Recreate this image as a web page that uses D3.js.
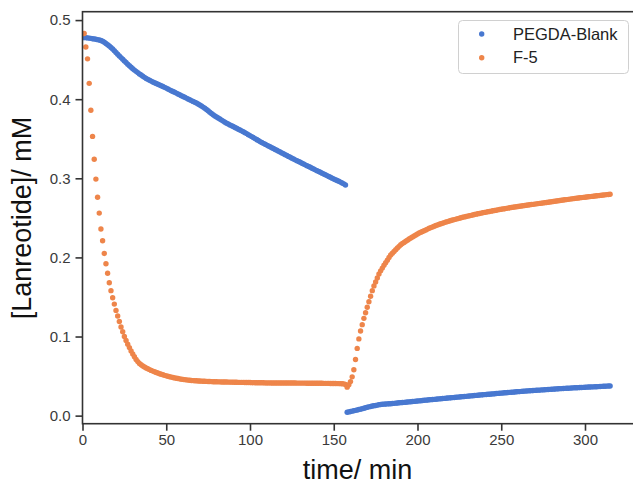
<!DOCTYPE html>
<html>
<head>
<meta charset="utf-8">
<script src="https://cdn.jsdelivr.net/npm/d3@7"></script>
<style>
  html, body { margin: 0; padding: 0; background: #fff; }
  svg { display: block; font-family: "Liberation Sans", Arial, sans-serif; }
</style>
</head>
<body>
<svg id="chart" width="633" height="484"></svg>
<script>
// ---------------- data ----------------
const seriesNames = ["PEGDA-Blank", "F-5"];
const xTicks = [0, 50, 100, 150, 200, 250, 300];
const yTicks = [0.0, 0.1, 0.2, 0.3, 0.4, 0.5];
const xLabel = "time/ min";
const yLabel = "[Lanreotide]/ mM";

// sampling times (min), shared by both series
const timeMin = [
  0,1,2,3,4,5,6,7,8,9,10,11,12,13,14,15,16,17,18,19,
  20,21,22,23,24,25,26,27,28,29,30,31,32,33,34,35,36,37,38,39,
  40,41,42,43,44,45,46,47,48,49,50,51,52,53,54,55,56,57,58,59,
  60,61,62,63,64,65,66,67,68,69,70,71,72,73,74,75,76,77,78,79,
  80,81,82,83,84,85,86,87,88,89,90,91,92,93,94,95,96,97,98,99,
  100,101,102,103,104,105,106,107,108,109,110,111,112,113,114,115,116,117,118,119,
  120,121,122,123,124,125,126,127,128,129,130,131,132,133,134,135,136,137,138,139,
  140,141,142,143,144,145,146,147,148,149,150,151,152,153,154,155,156,157,158,159,
  160,161,162,163,164,165,166,167,168,169,170,171,172,173,174,175,176,177,178,179,
  180,181,182,183,184,185,186,187,188,189,190,191,192,193,194,195,196,197,198,199,
  200,201,202,203,204,205,206,207,208,209,210,211,212,213,214,215,216,217,218,219,
  220,221,222,223,224,225,226,227,228,229,230,231,232,233,234,235,236,237,238,239,
  240,241,242,243,244,245,246,247,248,249,250,251,252,253,254,255,256,257,258,259,
  260,261,262,263,264,265,266,267,268,269,270,271,272,273,274,275,276,277,278,279,
  280,281,282,283,284,285,286,287,288,289,290,291,292,293,294,295,296,297,298,299,
  300,301,302,303,304,305,306,307,308,309,310,311,312,313,314,315
];

// PEGDA-Blank concentration (mM)
const blueConc = [
  .4780,.4779,.4778,.4775,.4772,.4769,.4765,.4762,.4758,.4753,
  .4748,.4741,.4732,.4720,.4705,.4689,.4672,.4654,.4635,.4613,
  .4590,.4568,.4547,.4526,.4505,.4484,.4463,.4442,.4422,.4403,
  .4385,.4368,.4352,.4336,.4320,.4305,.4290,.4276,.4262,.4251,
  .4240,.4229,.4218,.4208,.4198,.4189,.4180,.4170,.4160,.4150,
  .4140,.4129,.4118,.4107,.4097,.4087,.4077,.4066,.4056,.4045,
  .4035,.4024,.4014,.4003,.3993,.3982,.3972,.3962,.3952,.3940,
  .3928,.3914,.3900,.3885,.3870,.3853,.3836,.3819,.3803,.3789,
  .3776,.3762,.3749,.3736,.3723,.3710,.3697,.3686,.3675,.3664,
  .3654,.3643,.3632,.3621,.3611,.3600,.3590,.3577,.3565,.3552,
  .3540,.3527,.3515,.3502,.3490,.3477,.3464,.3453,.3442,.3431,
  .3420,.3409,.3398,.3387,.3376,.3365,.3354,.3343,.3332,.3321,
  .3310,.3299,.3288,.3277,.3266,.3255,.3244,.3233,.3223,.3212,
  .3202,.3191,.3181,.3170,.3160,.3149,.3139,.3128,.3118,.3107,
  .3097,.3086,.3076,.3065,.3055,.3044,.3034,.3023,.3013,.3002,
  .2992,.2982,.2972,.2962,.2952,.2941,.2930,.2915,.0043,.0047,
  .0052,.0057,.0062,.0067,.0072,.0077,.0082,.0088,.0094,.0100,
  .0106,.0111,.0116,.0121,.0125,.0129,.0133,.0137,.0140,.0143,
  .0145,.0147,.0148,.0150,.0151,.0153,.0155,.0158,.0160,.0162,
  .0164,.0166,.0168,.0170,.0172,.0174,.0176,.0178,.0180,.0183,
  .0185,.0187,.0189,.0192,.0194,.0196,.0198,.0200,.0202,.0204,
  .0206,.0208,.0210,.0212,.0214,.0216,.0218,.0220,.0222,.0224,
  .0226,.0228,.0230,.0232,.0234,.0236,.0238,.0240,.0242,.0244,
  .0246,.0248,.0250,.0252,.0254,.0256,.0258,.0260,.0262,.0264,
  .0266,.0268,.0270,.0271,.0273,.0275,.0277,.0279,.0281,.0283,
  .0285,.0287,.0289,.0290,.0292,.0294,.0296,.0297,.0299,.0301,
  .0303,.0304,.0306,.0308,.0310,.0311,.0313,.0314,.0316,.0317,
  .0319,.0320,.0322,.0323,.0325,.0326,.0328,.0329,.0331,.0332,
  .0334,.0335,.0337,.0338,.0340,.0341,.0342,.0343,.0345,.0346,
  .0347,.0348,.0350,.0351,.0352,.0353,.0354,.0355,.0356,.0357,
  .0359,.0360,.0361,.0362,.0363,.0364,.0365,.0366,.0367,.0368,
  .0370,.0371,.0372,.0373,.0374,.0375
];

// F-5 concentration (mM); no reading at t = 0
const orangeConc = [
  null,.483,.466,.451,.420,.386,.353,.324,.299,.276,
  .256,.236,.221,.205,.192,.180,.168,.158,.149,.141,
  .133,.126,.119,.112,.106,.100,.095,.0903,.0860,.0818,
  .0780,.0744,.0710,.0683,.0660,.0643,.0628,.0615,.0603,.0592,
  .0582,.0572,.0563,.0554,.0546,.0538,.0530,.0523,.0516,.0509,
  .0503,.0497,.0492,.0487,.0482,.0477,.0473,.0469,.0465,.0461,
  .0458,.0455,.0452,.0449,.0447,.0445,.0443,.0441,.0440,.0438,
  .0437,.0436,.0435,.0434,.0433,.0432,.0431,.0430,.0429,.0428,
  .0428,.0427,.0427,.0426,.0426,.0425,.0425,.0424,.0424,.0423,
  .0423,.0422,.0422,.0421,.0421,.0420,.0420,.0419,.0419,.0418,
  .0418,.0417,.0417,.0416,.0416,.0415,.0415,.0415,.0415,.0414,
  .0414,.0414,.0414,.0413,.0413,.0413,.0413,.0413,.0413,.0412,
  .0412,.0412,.0412,.0412,.0412,.0412,.0412,.0412,.0411,.0411,
  .0411,.0411,.0411,.0411,.0410,.0410,.0410,.0410,.0410,.0410,
  .0409,.0409,.0409,.0409,.0408,.0408,.0408,.0408,.0407,.0407,
  .0406,.0406,.0405,.0405,.0404,.0403,.0402,.0395,.0360,.0390,
  .0430,.0490,.0580,.0710,.0850,.0970,.1070,.1150,.1230,.1300,
  .1370,.1440,.1510,.1580,.1640,.1690,.1740,.1790,.1830,.1865,
  .1900,.1933,.1965,.1998,.2030,.2053,.2075,.2098,.2120,.2140,
  .2160,.2175,.2190,.2204,.2218,.2232,.2245,.2258,.2271,.2284,
  .2297,.2308,.2318,.2328,.2338,.2348,.2358,.2368,.2377,.2386,
  .2395,.2403,.2411,.2419,.2426,.2433,.2440,.2447,.2453,.2460,
  .2466,.2472,.2478,.2484,.2490,.2496,.2501,.2507,.2512,.2517,
  .2522,.2527,.2532,.2537,.2542,.2547,.2551,.2556,.2560,.2565,
  .2569,.2573,.2577,.2581,.2585,.2589,.2593,.2597,.2601,.2605,
  .2609,.2613,.2616,.2620,.2623,.2627,.2630,.2634,.2637,.2640,
  .2643,.2647,.2650,.2653,.2656,.2659,.2662,.2665,.2668,.2671,
  .2674,.2677,.2680,.2683,.2686,.2689,.2692,.2695,.2698,.2701,
  .2704,.2707,.2710,.2713,.2716,.2719,.2722,.2725,.2728,.2731,
  .2734,.2737,.2740,.2743,.2746,.2749,.2751,.2754,.2756,.2759,
  .2761,.2764,.2766,.2769,.2771,.2774,.2776,.2779,.2781,.2784,
  .2786,.2789,.2791,.2794,.2796,.2799
];

const colors = ["#4878d0", "#ee854a"];

// ---------------- layout ----------------
const W = 633, H = 484;
const plot = { left: 82.5, right: 636.5, top: 11.7, bottom: 423.7 };

const x = d3.scaleLinear().domain([0, 330.75]).range([plot.left, plot.right]);
const y = d3.scaleLinear().domain([-0.0102, 0.5106]).range([plot.bottom, plot.top]);

const svg = d3.select("#chart");
svg.append("rect").attr("width", W).attr("height", H).attr("fill", "#fff");

svg.append("defs").append("clipPath").attr("id", "clip")
  .append("rect")
  .attr("x", plot.left).attr("y", plot.top)
  .attr("width", plot.right - plot.left).attr("height", plot.bottom - plot.top);

const data = [
  { name: seriesNames[0], color: colors[0],
    pts: timeMin.map((t, i) => [t, blueConc[i]]).filter(d => d[1] != null) },
  { name: seriesNames[1], color: colors[1],
    pts: timeMin.map((t, i) => [t, orangeConc[i]]).filter(d => d[1] != null) }
];

const marks = svg.append("g").attr("clip-path", "url(#clip)");
data.forEach(s => {
  marks.append("g").selectAll("circle").data(s.pts).join("circle")
    .attr("cx", d => x(d[0]))
    .attr("cy", d => y(d[1]))
    .attr("r", 2.7)
    .attr("fill", s.color);
});

// axes
const axisColor = "#333";
const xAxis = svg.append("g")
  .attr("transform", `translate(0,${plot.bottom})`)
  .call(d3.axisBottom(x).tickValues(xTicks).tickFormat(d3.format("d")).tickSize(7).tickPadding(4).tickSizeOuter(0));
const yAxis = svg.append("g")
  .attr("transform", `translate(${plot.left},0)`)
  .call(d3.axisLeft(y).tickValues(yTicks).tickFormat(d3.format(".1f")).tickSize(7).tickPadding(5).tickSizeOuter(0));

[xAxis, yAxis].forEach(g => {
  g.select(".domain").remove();
  g.selectAll(".tick line").attr("stroke", axisColor).attr("stroke-width", 1.6);
  g.selectAll(".tick text").attr("fill", "#3a3a3a")
    .style("font-size", "15px").style("font-family", '"Liberation Sans", Arial, sans-serif');
});

// spines
svg.append("rect")
  .attr("x", plot.left).attr("y", plot.top)
  .attr("width", plot.right - plot.left).attr("height", plot.bottom - plot.top)
  .attr("fill", "none").attr("stroke", axisColor).attr("stroke-width", 1.6);

// axis labels
svg.append("text")
  .attr("x", (plot.left + plot.right) / 2 - 2)
  .attr("y", 479)
  .attr("text-anchor", "middle")
  .attr("fill", "#111")
  .style("font-size", "27px")
  .text(xLabel);

svg.append("text")
  .attr("transform", "translate(31,218) rotate(-90)")
  .attr("text-anchor", "middle")
  .attr("fill", "#111")
  .style("font-size", "27px")
  .text(yLabel);

// legend
const lg = svg.append("g");
lg.append("rect")
  .attr("x", 458.5).attr("y", 20.5).attr("width", 170).attr("height", 53)
  .attr("rx", 4).attr("ry", 4)
  .attr("fill", "#fff").attr("fill-opacity", 0.8)
  .attr("stroke", "#d0d0d0").attr("stroke-width", 1);
data.forEach((s, i) => {
  const cy = 34 + i * 23.7;
  lg.append("circle").attr("cx", 481.7).attr("cy", cy).attr("r", 2.7).attr("fill", s.color);
  lg.append("text")
    .attr("x", 513).attr("y", cy).attr("dy", "0.35em")
    .attr("fill", "#222")
    .style("font-size", "16.5px")
    .text(s.name);
});
</script>
</body>
</html>
